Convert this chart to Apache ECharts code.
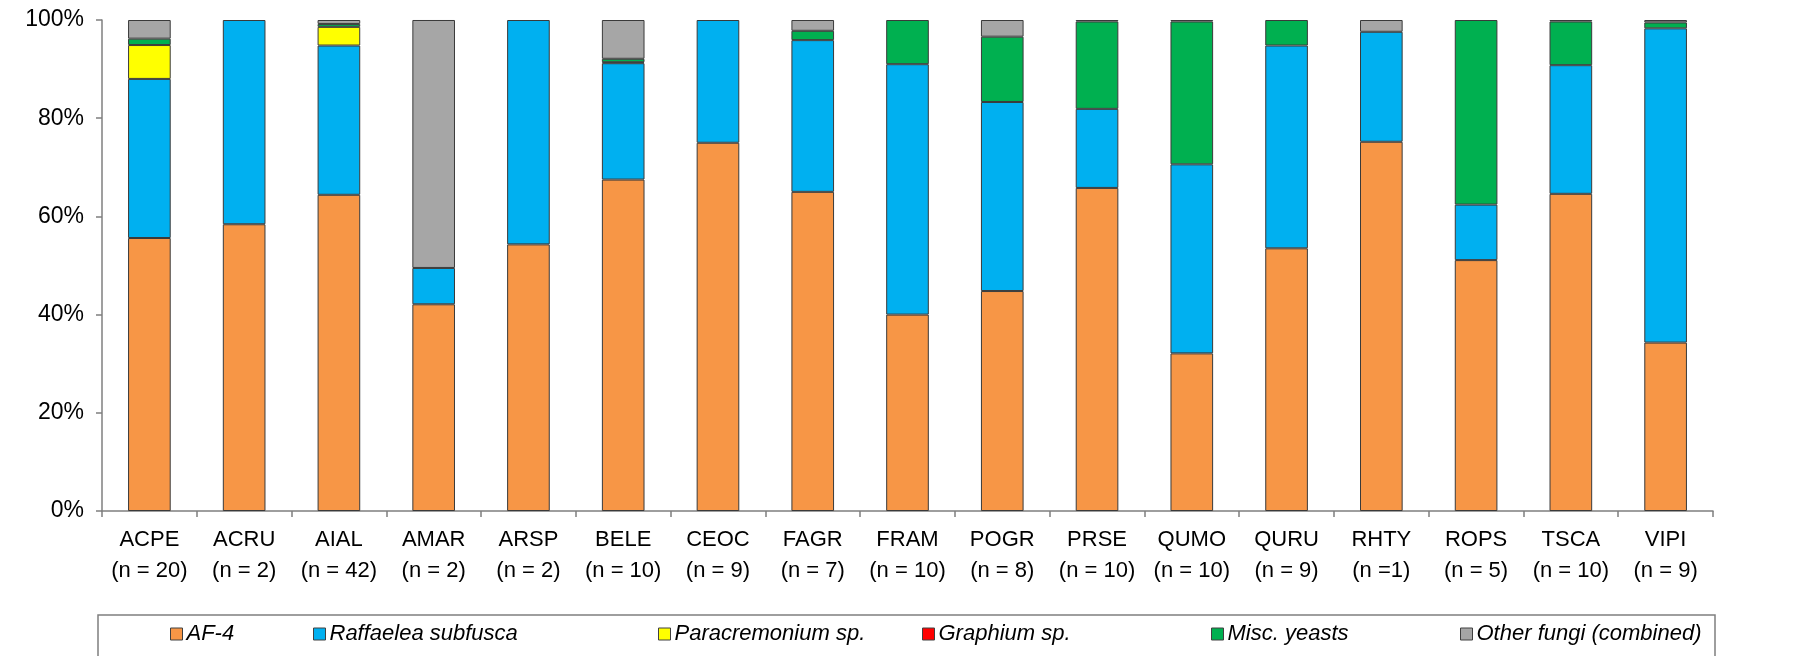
<!DOCTYPE html>
<html>
<head>
<meta charset="utf-8">
<script src="https://cdn.jsdelivr.net/npm/echarts@6/dist/echarts.min.js"></script>
<style>
  html, body { margin: 0; padding: 0; background: #fff; }
  #chart { width: 1817px; height: 656px; }
</style>
</head>
<body>
<div id="chart"></div>
<script>
// Host species codes and sample sizes
const species = ['ACPE', 'ACRU', 'AIAL', 'AMAR', 'ARSP', 'BELE', 'CEOC', 'FAGR', 'FRAM',
                 'POGR', 'PRSE', 'QUMO', 'QURU', 'RHTY', 'ROPS', 'TSCA', 'VIPI'];
const sampleSizes = ['(n = 20)', '(n = 2)', '(n = 42)', '(n = 2)', '(n = 2)', '(n = 10)', '(n = 9)',
                     '(n = 7)', '(n = 10)', '(n = 8)', '(n = 10)', '(n = 10)', '(n = 9)', '(n =1)',
                     '(n = 5)', '(n = 10)', '(n = 9)'];

// Percent of isolates per fungal group
const af4          = [55.6, 58.4, 64.4, 42.1, 54.3, 67.5, 75.0, 65.0, 40.0, 44.8, 65.8, 32.1, 53.5, 75.2, 51.1, 64.6, 34.3];
const raffaelea    = [32.4, 41.6, 30.4, 7.4, 45.7, 23.7, 25.0, 30.9, 51.0, 38.5, 16.1, 38.5, 41.3, 22.4, 11.3, 26.2, 64.0];
const paracremon   = [6.9, 0, 3.8, 0, 0, 0, 0, 0, 0, 0, 0, 0, 0, 0, 0, 0, 0];
const graphium     = [0, 0, 0, 0, 0, 0.2, 0, 0, 0, 0, 0, 0, 0, 0, 0, 0, 0];
const yeasts       = [1.3, 0, 0.6, 0, 0, 0.7, 0, 1.9, 9.0, 13.3, 17.8, 29.1, 5.2, 0, 37.6, 8.9, 1.2];
const otherFungi   = [3.8, 0, 0.8, 50.5, 0, 7.9, 0, 2.2, 0, 3.4, 0.3, 0.3, 0, 2.4, 0, 0.3, 0.5];

const yTicks = [0, 20, 40, 60, 80, 100];

const groups = [
  { name: 'AF-4',                    data: af4,        color: '#F79646', legendLeft: 170 },
  { name: 'Raffaelea subfusca',      data: raffaelea,  color: '#00B0F0', legendLeft: 313 },
  { name: 'Paracremonium sp.',       data: paracremon, color: '#FFFF00', legendLeft: 658 },
  { name: 'Graphium sp.',            data: graphium,   color: '#FF0000', legendLeft: 922 },
  { name: 'Misc. yeasts',            data: yeasts,     color: '#00B050', legendLeft: 1211 },
  { name: 'Other fungi (combined)',  data: otherFungi, color: '#A6A6A6', legendLeft: 1460 }
];

const FONT = '"Liberation Sans", Arial, sans-serif';
const chart = echarts.init(document.getElementById('chart'), null, { renderer: 'canvas' });

const categories = species.map((s, i) => s + '\n' + sampleSizes[i]);

chart.setOption({
  animation: false,
  backgroundColor: '#fff',
  grid: { left: 102, right: 104, top: 20, bottom: 145, containLabel: false },
  legend: groups.map(g => ({
    data: [g.name],
    left: g.legendLeft,
    top: 623,
    padding: 0,
    icon: 'rect',
    itemWidth: 12,
    itemHeight: 12,
    itemGap: 0,
    selectedMode: false,
    itemStyle: { borderColor: '#404040', borderWidth: 1 },
    textStyle: { fontFamily: FONT, fontSize: 22, fontStyle: 'italic', color: '#000', padding: [0, 0, 0, -1] }
  })),
  graphic: [{
    type: 'rect',
    shape: { x: 98, y: 615, width: 1617, height: 60 },
    style: { fill: 'none', stroke: '#7f7f7f', lineWidth: 1.5 },
    silent: true
  }],
  xAxis: {
    type: 'category',
    data: categories,
    axisLine: { show: true, lineStyle: { color: '#7f7f7f', width: 1.5 } },
    axisTick: { show: true, alignWithLabel: false, length: 6, lineStyle: { color: '#7f7f7f', width: 1.5 } },
    axisLabel: {
      interval: 0,
      margin: 13,
      color: '#000',
      fontFamily: FONT,
      fontSize: 22,
      lineHeight: 31
    }
  },
  yAxis: {
    type: 'value',
    min: yTicks[0],
    max: yTicks[yTicks.length - 1],
    interval: yTicks[1] - yTicks[0],
    splitLine: { show: false },
    axisLine: { show: true, lineStyle: { color: '#7f7f7f', width: 1.5 } },
    axisTick: { show: true, length: 6, lineStyle: { color: '#7f7f7f', width: 1.5 } },
    axisLabel: {
      formatter: '{value}%',
      margin: 18,
      color: '#000',
      fontFamily: FONT,
      fontSize: 23
    }
  },
  series: groups.map(g => ({
    name: g.name,
    type: 'bar',
    stack: 'total',
    barWidth: '45%',
    data: g.data.map(v => (v === 0 ? '-' : v)),
    itemStyle: { color: g.color, borderColor: '#3a3a3a', borderWidth: 1 }
  }))
});
</script>
</body>
</html>
